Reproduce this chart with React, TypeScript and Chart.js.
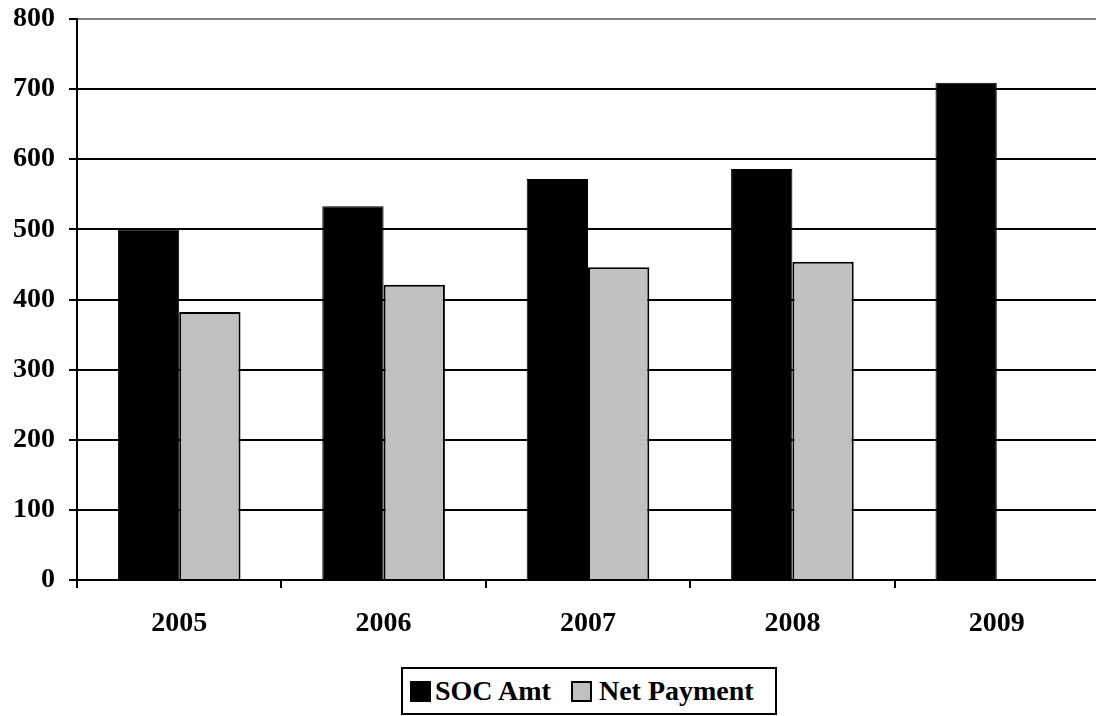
import React, { useEffect, useRef } from "react";
import { Chart, registerables } from "chart.js";

Chart.register(...registerables);

const categories = ["2005", "2006", "2007", "2008", "2009"];
const socAmt = [500, 533, 572, 586, 709];
const netPayment: (number | null)[] = [382, 421, 446, 454, null];
const seriesNames = ["SOC Amt", "Net Payment"];
const seriesColors = ["#000000", "#c0c0c0"];
const yTicksMax = 800;
const yTickStep = 100;

const FONT = "'Liberation Serif', 'Times New Roman', serif";

export default function App() {
  const ref = useRef<HTMLCanvasElement | null>(null);

  useEffect(() => {
    const canvas = ref.current;
    if (!canvas) return;
    const chart = new Chart(canvas, {
      type: "bar",
      data: {
        labels: categories,
        datasets: [
          {
            label: seriesNames[0],
            data: socAmt,
            backgroundColor: seriesColors[0],
            borderColor: "#000",
            borderWidth: 1,
            categoryPercentage: 0.6,
            barPercentage: 1.0,
          },
          {
            label: seriesNames[1],
            data: netPayment,
            backgroundColor: seriesColors[1],
            borderColor: "#000",
            borderWidth: 2,
            categoryPercentage: 0.6,
            barPercentage: 1.0,
          },
        ],
      },
      options: {
        responsive: false,
        animation: false,
        devicePixelRatio: 1,
        layout: { padding: { top: 19, right: 1, left: 0, bottom: 0 } },
        plugins: {
          legend: { display: false },
          tooltip: { enabled: false },
        },
        scales: {
          x: {
            offset: true,
            grid: {
              display: true,
              drawOnChartArea: false,
              drawTicks: true,
              tickLength: 8,
              color: "#000",
              lineWidth: 2,
              offset: true,
            },
            border: { display: true, color: "#000", width: 2 },
            ticks: {
              color: "#000",
              font: { family: FONT, size: 28, weight: "bold" },
              padding: 19,
              maxRotation: 0,
            },
            afterFit: (scale: any) => {
              scale.height = 716 - 580;
              scale.paddingLeft = 0;
              scale.paddingRight = 0;
            },
          },
          y: {
            min: 0,
            max: yTicksMax,
            grid: {
              color: (ctx: any) => (ctx.tick && ctx.tick.value === yTicksMax ? "#808080" : "#000"),
              tickColor: "#000",
              lineWidth: 2,
              tickLength: 8,
              drawTicks: true,
            },
            border: { display: true, color: "#000", width: 2 },
            ticks: {
              stepSize: yTickStep,
              color: "#000",
              font: { family: FONT, size: 28, weight: "bold" },
              padding: 14,
            },
            afterFit: (scale: any) => {
              scale.width = 77;
              scale.paddingTop = 0;
              scale.paddingBottom = 0;
            },
          },
        },
      },
    });
    return () => chart.destroy();
  }, []);

  const legendItem = (name: string, color: string, border: boolean, gapAfterSquare: number) => (
    <div key={name} style={{ display: "flex", alignItems: "center" }}>
      <div
        style={{
          width: 21,
          height: 21,
          boxSizing: "border-box",
          background: color,
          border: border ? "2px solid #000" : "1px solid #000",
          marginRight: gapAfterSquare,
        }}
      />
      <span>{name}</span>
    </div>
  );

  return (
    <div
      style={{
        position: "fixed",
        left: 0,
        top: 0,
        width: 1096,
        height: 716,
        overflow: "hidden",
        background: "#fff",
      }}
    >
      <canvas
        ref={ref}
        width={1100}
        height={716}
        style={{ position: "absolute", left: 0, top: 0, width: 1100, height: 716 }}
      />
      <div
        style={{
          position: "absolute",
          left: 401,
          top: 667,
          width: 376,
          height: 48,
          boxSizing: "border-box",
          border: "2px solid #000",
          display: "flex",
          alignItems: "center",
          justifyContent: "flex-start",
          paddingLeft: 7,
          gap: 20,
          fontFamily: FONT,
          fontWeight: "bold",
          fontSize: 28,
          color: "#000",
          background: "#fff",
        }}
      >
        {legendItem(seriesNames[0], seriesColors[0], false, 4)}
        {legendItem(seriesNames[1], seriesColors[1], true, 7)}
      </div>
    </div>
  );
}
